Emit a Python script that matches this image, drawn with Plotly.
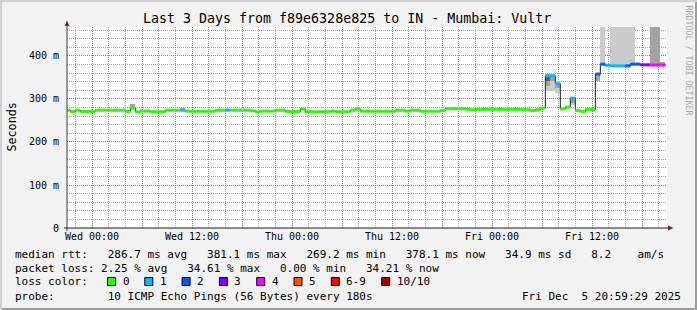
import plotly.graph_objects as go

# ---------------- data ----------------
title_text = "Last 3 Days from f89e6328e825 to IN - Mumbai: Vultr"
step_hours = 0.6          # RRA step (36 min)
first_step = -3.2         # hours relative to Wed 00:00
x_range = [-3, 69]
y_range = [0, 467.4]

x_tick_vals = [0, 6, 12, 18, 24, 30, 36, 42, 48, 54, 60, 66]
x_tick_text = ["Wed 00:00", "", "Wed 12:00", "", "Thu 00:00", "", "Thu 12:00", "",
               "Fri 00:00", "", "Fri 12:00", ""]
y_tick_vals = [0, 100, 200, 300, 400]
y_tick_text = ["0", "100 m", "200 m", "300 m", "400 m"]

# median rtt per step (ms)
median_ms = [
    274, 271, 274, 271, 271, 271, 274, 274, 274, 274, 274, 274,
    271, 279, 270, 272, 272, 270.5, 270.5, 270.5, 274, 274, 274, 274,
    271.5, 271.5, 271.5, 271.5, 271.5, 271.5, 274, 274, 274, 274, 274, 274,
    274, 272.5, 270, 272, 272, 272, 274, 274, 271, 271, 271, 277,
    270.5, 270.5, 270.5, 270.5, 270.5, 272, 270.5, 270.5, 270.5, 274, 276.5, 271.5,
    271.5, 271.5, 271.5, 271.5, 271.5, 271.5, 274, 274, 271.5, 274, 274, 271.5,
    271.5, 271.5, 271.5, 273, 277.5, 277.5, 277.5, 277.5, 276, 275, 276, 276,
    276, 276, 276, 276, 276, 276, 276, 276, 275, 273.5, 275, 279,
    354, 354, 335.5, 277, 281, 302, 273.5, 271, 275.5, 275.5, 358, 381,
    378.5, 377, 377, 377, 377, 381, 381, 379.5, 379.5, 379, 379, 379,
]
# lost pings per step (of 10)
loss_count = [0] * 120
for k in (23, 32, 96, 97, 98, 101, 108, 109, 110, 111):
    loss_count[k] = 1
for k in (106, 107, 112, 113, 114):
    loss_count[k] = 2
for k in (115, 116):
    loss_count[k] = 3
for k in (117, 118, 119):
    loss_count[k] = 4

# smoke (ping spread) blocks: step index, low ms, high ms, shade level
smoke_step = [13, 23, 96, 96, 96, 96, 97, 97, 97, 98, 98, 101, 101, 106,
              107, 109, 110, 111, 112, 113, 117, 118, 119]
smoke_lo = [282, 276, 319, 330, 342, 356, 319, 342, 356, 315, 326, 285, 290, 342,
            383, 380, 380, 380, 380, 380, 381, 381, 381]
smoke_hi = [289, 280, 330, 342, 352, 359, 342, 352, 359, 326, 333, 290, 300, 356,
            470, 470, 470, 470, 470, 470, 470, 470, 386]
smoke_level = [1, 1, 0, 1, 2, 0, 0, 1, 0, 0, 1, 0, 1, 1,
               0, 0, 0, 0, 0, 0, 1, 1, 1]

loss_labels = ["0", "1", "2", "3", "4", "5", "6-9", "10/10"]
loss_colors = ["#26ff00", "#00b8ff", "#0059ff", "#7e00ff", "#ff00ff", "#ff5500", "#ff0000", "#a10000"]
loss_bucket = [0, 1, 2, 3, 4, 5, 6, 6, 6, 6, 7]  # lost pings -> legend bucket

stats_rtt = "median rtt:   286.7 ms avg   381.1 ms max   269.2 ms min   378.1 ms now   34.9 ms sd   8.2    am/s"
stats_loss = "packet loss: 2.25 % avg   34.61 % max   0.00 % min   34.21 % now"
probe_text = "probe:        10 ICMP Echo Pings (56 Bytes) every 180s"
stamp_text = "Fri Dec  5 20:59:29 2025"

# ---------------- styling ----------------
FONT = "DejaVu Sans Mono"
W, H = 697, 310
L, T, PW, PH = 67, 27, 600, 201
smoke_shades = ["#cbcbcb", "#a3a3a3", "#5c5c5c"]


def px(x):
    return (x - L) / PW


def py(y):
    return (T + PH - y) / PH


def nb(s):
    return s.replace(" ", "\u00a0")


fig = go.Figure()

# smoke
fig.add_trace(go.Bar(
    x=[first_step + step_hours * (k + 0.5) for k in smoke_step],
    y=[h - l for l, h in zip(smoke_lo, smoke_hi)],
    base=smoke_lo,
    width=step_hours,
    marker=dict(color=[smoke_shades[s] for s in smoke_level], line=dict(width=0)),
    hoverinfo="skip", showlegend=False,
))

# black median step line
starts = [first_step + step_hours * k for k in range(len(median_ms))]
fig.add_trace(go.Scatter(
    x=starts + [starts[-1] + step_hours], y=median_ms + [median_ms[-1]],
    mode="lines", line=dict(color="#202020", width=1, shape="hv"),
    hoverinfo="skip", showlegend=False,
))

# loss coloured median bands
for b, col in enumerate(loss_colors):
    xs, ys = [], []
    for k, v in enumerate(median_ms):
        if loss_bucket[loss_count[k]] == b:
            xs += [starts[k], starts[k] + step_hours, None]
            ys += [v, v, None]
    if xs:
        fig.add_trace(go.Scatter(x=xs, y=ys, mode="lines",
                                 line=dict(color=col, width=3),
                                 hoverinfo="skip", showlegend=False))

grid_major = "rgba(222,79,79,0.6)"
grid_minor = "rgba(143,143,143,0.75)"

fig.update_xaxes(
    range=x_range, tickmode="array", tickvals=x_tick_vals, ticktext=x_tick_text,
    showgrid=True, gridcolor=grid_major, gridwidth=1, griddash="1px,1px",
    minor=dict(tickmode="linear", tick0=0, dtick=2, showgrid=True,
               gridcolor=grid_minor, gridwidth=1, griddash="1px,1px"),
    zeroline=False, showline=False, ticks="", ticklabelstandoff=1,
    tickfont=dict(family=FONT, size=10, color="#000"), fixedrange=True,
)
fig.update_yaxes(
    range=y_range, tickmode="array", tickvals=y_tick_vals, ticktext=y_tick_text,
    showgrid=True, gridcolor=grid_major, gridwidth=1, griddash="1px,1px",
    minor=dict(tickmode="linear", tick0=0, dtick=20, showgrid=True,
               gridcolor=grid_minor, gridwidth=1, griddash="1px,1px"),
    zeroline=False, showline=False, ticks="", ticklabelstandoff=7,
    tickfont=dict(family=FONT, size=10, color="#000"), fixedrange=True,
)

shapes = []
# 3D border
shapes.append(dict(type="rect", xref="paper", yref="paper", x0=px(0), x1=px(W), y0=py(2), y1=py(0),
                   fillcolor="#cfcfcf", line=dict(width=0), layer="below"))
shapes.append(dict(type="rect", xref="paper", yref="paper", x0=px(0), x1=px(2), y0=py(H), y1=py(0),
                   fillcolor="#cfcfcf", line=dict(width=0), layer="below"))
shapes.append(dict(type="rect", xref="paper", yref="paper", x0=px(2), x1=px(W), y0=py(H), y1=py(H - 2),
                   fillcolor="#9e9e9e", line=dict(width=0), layer="below"))
shapes.append(dict(type="rect", xref="paper", yref="paper", x0=px(W - 2), x1=px(W), y0=py(H), y1=py(2),
                   fillcolor="#9e9e9e", line=dict(width=0), layer="below"))
# axes
shapes.append(dict(type="line", xref="paper", yref="paper", x0=px(67), x1=px(67), y0=py(231), y1=py(24),
                   line=dict(color="#3a3a3a", width=1)))
shapes.append(dict(type="line", xref="paper", yref="paper", x0=px(64), x1=px(669), y0=py(228), y1=py(228),
                   line=dict(color="#1f1f1f", width=1)))
# arrows
shapes.append(dict(type="path", xref="paper", yref="paper",
                   path=f"M {px(64.5)},{py(26)} L {px(69.5)},{py(26)} L {px(67)},{py(20.5)} Z",
                   fillcolor="#801f1f", line=dict(width=0)))
shapes.append(dict(type="path", xref="paper", yref="paper",
                   path=f"M {px(668)},{py(225.5)} L {px(668)},{py(230.5)} L {px(673.5)},{py(228)} Z",
                   fillcolor="#801f1f", line=dict(width=0)))

# loss colour legend boxes
box_x = [107.5, 144.8, 182.1, 219.4, 256.7, 294.0, 331.3, 381.7]
for bx, col in zip(box_x, loss_colors):
    shapes.append(dict(type="rect", xref="paper", yref="paper",
                       x0=px(bx), x1=px(bx + 8), y0=py(285.5), y1=py(277.5),
                       fillcolor=col, line=dict(color="#000", width=1)))

annotations = []


def ann(text, x, y, size=11, xanchor="left", color="#000", angle=0):
    annotations.append(dict(text=nb(text), x=px(x), y=py(y), xref="paper", yref="paper",
                            xanchor=xanchor, yanchor="middle", showarrow=False,
                            textangle=angle, borderpad=0, borderwidth=0,
                            font=dict(family=FONT, size=size, color=color)))


ann(title_text, 347.3, 19, size=13.3, xanchor="center")
ann("Seconds", 11, 127.5, size=11.7, xanchor="center", angle=-90)
ann("RRDTOOL / TOBI OETIKER", 688.5, 60, size=8.3, xanchor="center", color="#a8a8a8", angle=90)
ann(stats_rtt, 15, 254)
ann(stats_loss, 15, 268)
ann("loss color:", 15, 281.5)
for bx, lab in zip(box_x, loss_labels):
    ann(lab, bx + 15, 281.5)
ann(probe_text, 15, 296)
ann(stamp_text, 681, 296, xanchor="right")

fig.update_layout(
    width=W, height=H,
    margin=dict(l=L, r=W - L - PW, t=T, b=H - T - PH, pad=0),
    paper_bgcolor="#f2f2f2", plot_bgcolor="#ffffff",
    barmode="overlay", bargap=0, showlegend=False,
    shapes=shapes, annotations=annotations,
    font=dict(family=FONT),
)

fig.write_html("out.html", config={"displayModeBar": False, "staticPlot": True})
